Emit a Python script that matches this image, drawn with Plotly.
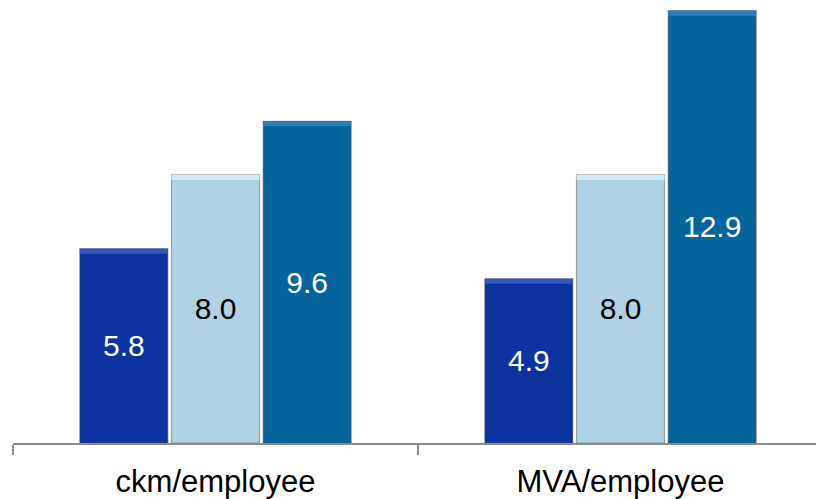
import plotly.graph_objects as go

# Productivity ratios per employee, three series per metric
categories = ["ckm/employee", "MVA/employee"]
series_a = [5.8, 4.9]
series_b = [8.0, 8.0]
series_c = [9.6, 12.9]

fills = ["#0c33a0", "#afd3e5", "#05649c"]
tops = ["#3458c2", "#d3eaf5", "#2a80ba"]
text_colors = ["white", "black", "white"]
groups = ["a", "b", "c"]
band = 0.15  # height of the lighter bevel band at the top of each bar

fig = go.Figure()
for vals, fill, top, tc, g in zip([series_a, series_b, series_c], fills, tops, text_colors, groups):
    fig.add_trace(go.Bar(
        x=categories, y=vals, offsetgroup=g,
        marker=dict(color=fill, line=dict(color="rgba(70,70,70,0.45)", width=1.2)),
        text=[f"{v:.1f}" for v in vals], texttemplate="%{text}",
        textposition="inside", insidetextanchor="middle",
        textfont=dict(family="Liberation Sans, Arial", size=30, color=tc),
        showlegend=False, hoverinfo="skip",
    ))
    # light bevel strip along the top edge
    fig.add_trace(go.Bar(
        x=categories, y=[band] * len(vals), base=[v - band for v in vals],
        offsetgroup=g, marker=dict(color=top, line=dict(width=0)),
        showlegend=False, hoverinfo="skip",
    ))

fig.update_layout(
    width=816, height=499,
    margin=dict(l=13, r=0, t=0, b=56),
    paper_bgcolor="white", plot_bgcolor="white",
    barmode="group", bargap=0.321, bargroupgap=0.04,
    font=dict(family="Liberation Sans, Arial", color="black"),
)
fig.update_xaxes(
    type="category", range=[-0.5, 1.4827], automargin=False,
    showline=True, linecolor="#8c8c8c", linewidth=1.5,
    ticks="outside", tickson="boundaries", ticklen=10, tickcolor="#8c8c8c", tickwidth=1.5,
    ticklabelstandoff=10,
    tickfont=dict(size=31, color="black"), showgrid=False,
)
fig.update_yaxes(range=[0, 13.22], visible=False, showgrid=False, zeroline=False)

fig.write_html("out.html")
